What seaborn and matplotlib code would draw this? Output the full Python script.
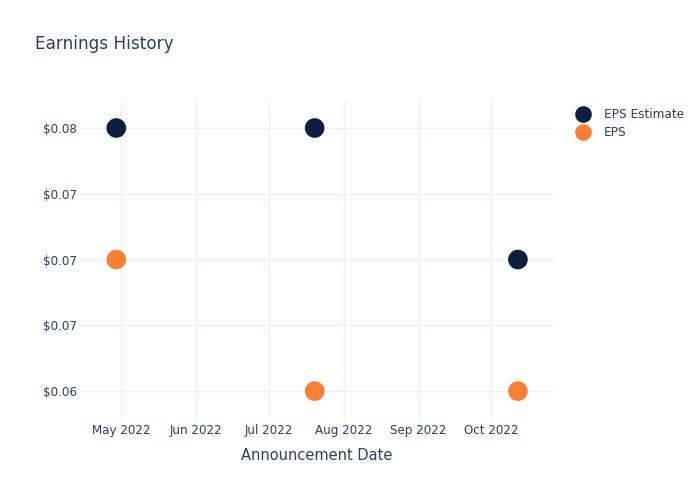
import matplotlib
matplotlib.use("Agg")
import matplotlib.pyplot as plt
import seaborn as sns
import pandas as pd

# Data
dates = ["2022-04-29", "2022-07-20", "2022-10-12"]
eps_estimate = [0.08, 0.08, 0.07]
eps_actual = [0.07, 0.06, 0.06]
series_names = ["EPS Estimate", "EPS"]
y_ticks = [0.06, 0.065, 0.07, 0.075, 0.08]
y_tick_labels = ["$0.06", "$0.07", "$0.07", "$0.07", "$0.08"]
x_tick_dates = ["2022-05-01", "2022-06-01", "2022-07-01", "2022-08-01", "2022-09-01", "2022-10-01"]
x_tick_labels = ["May 2022", "Jun 2022", "Jul 2022", "Aug 2022", "Sep 2022", "Oct 2022"]

df = pd.DataFrame({
    "date": pd.to_datetime(dates * 2),
    "value": eps_estimate + eps_actual,
    "series": [series_names[0]] * 3 + [series_names[1]] * 3,
})

sns.set_theme(style="white")
plt.rcParams["font.family"] = ["DejaVu Sans"]
text_color = "#2a3f5f"
grid_color = "#ebf0f8"
palette = {"EPS Estimate": "#0d1f40", "EPS": "#f77f36"}

fig = plt.figure(figsize=(7, 5), dpi=100)
ax = fig.add_axes([80 / 700, 1 - 420 / 500, (553 - 80) / 700, 320 / 500])

sns.scatterplot(data=df, x="date", y="value", hue="series",
                palette=palette, s=200, linewidth=0, edgecolor="none",
                ax=ax, zorder=3, legend=True)

ax.set_xlim(pd.Timestamp("2022-04-14"), pd.Timestamp("2022-10-26 12:00"))
ax.set_ylim(0.0578, 0.08213)

ax.set_yticks(y_ticks)
ax.set_yticklabels(y_tick_labels)
ax.set_xticks(pd.to_datetime(x_tick_dates))
ax.set_xticklabels(x_tick_labels)

ax.grid(True, color=grid_color, linewidth=1)
ax.set_axisbelow(True)
for sp in ax.spines.values():
    sp.set_visible(False)
ax.tick_params(axis="both", length=0, labelsize=8.6, colors=text_color)
ax.tick_params(axis="x", pad=3)
ax.tick_params(axis="y", pad=2)

ax.set_xlabel("Announcement Date", fontsize=10.5, color=text_color, labelpad=8)
ax.set_ylabel("")

fig.text(35 / 700, 1 - 44 / 500, "Earnings History", fontsize=12.2,
         color=text_color, va="center", ha="left")

leg = ax.legend(loc="upper left", bbox_to_anchor=(577 / 700, 1 - 108 / 500),
                bbox_transform=fig.transFigure, frameon=False, fontsize=8.7,
                labelcolor=text_color, handletextpad=1.2, labelspacing=0.4,
                handlelength=1.0, borderaxespad=0, borderpad=0)
for h in leg.legend_handles:
    h.set_markersize(12)
    h.set_markeredgewidth(0)

fig.savefig("out.png", dpi=100)
